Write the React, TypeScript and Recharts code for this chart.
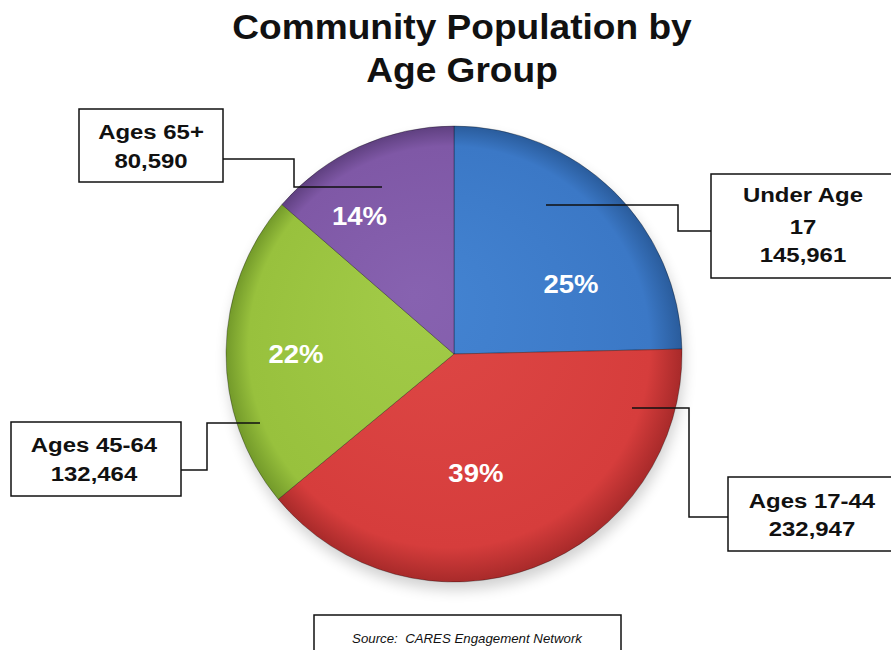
import React from 'react';
import { PieChart, Pie, Cell } from 'recharts';

// data
const groups = ['Under Age 17', 'Ages 17-44', 'Ages 45-64', 'Ages 65+'];
const population = [145961, 232947, 132464, 80590];
// callout box text lines
const calloutLines = [
    ['Under Age', '17', '145,961'],
    ['Ages 17-44', '232,947'],
    ['Ages 45-64', '132,464'],
    ['Ages 65+', '80,590'],
];

const chartData = groups.map((name, i) => ({ name, value: population[i] }));

const colors = [
    { id: 'gBlue', light: '#4484d2', base: '#3b78c6', dark: '#2a5c9c' },
    { id: 'gRed', light: '#de4846', base: '#d63d3c', dark: '#a82a2a' },
    { id: 'gGreen', light: '#a2cb48', base: '#98c13d', dark: '#739a2a' },
    { id: 'gPurple', light: '#8762b0', base: '#7f58a6', dark: '#5f4080' },
];

const FONT = '"Liberation Sans", Arial, sans-serif';
const CX = 454;
const CY = 354;
const R = 228;
const RAD = Math.PI / 180;

// layout for the percent labels (angle nudge from midAngle, distance from centre)
const pctLayout = [
    { da: -15, r: 136 },
    { da: -10, r: 121 },
    { da: 1, r: 158 },
    { da: 10, r: 167 },
];

// callout boxes and leader lines
const boxLayout = [
    { x: 711, y: 174, w: 190, h: 104, tx: 803, base: [202, 234, 262], line: [[546, 205], [678, 205], [678, 231], [738, 231]] },
    { x: 728, y: 477, w: 170, h: 74, tx: 812, base: [508, 536], line: [[632, 408], [689, 408], [689, 517], [747, 517]] },
    { x: 11, y: 422, w: 170, h: 74, tx: 94, base: [452, 481], line: [[260, 423], [207, 423], [207, 470], [150, 470]] },
    { x: 79, y: 109, w: 144, h: 73, tx: 151, base: [139, 168], line: [[382, 187], [294, 187], [294, 159], [207, 159]] },
];

// wide text like the original rendering
const WideText = ({ x, y, sx, children, ...rest }: any) => (
    <text transform={`translate(${x},${y}) scale(${sx},1)`} x={0} y={0} textAnchor="middle" fontFamily={FONT} {...rest}>
        {children}
    </text>
);

const renderLabel = (props: any) => {
    const { cx, cy, midAngle, percent, index } = props;
    const p = pctLayout[index];
    const a = (midAngle + p.da) * RAD;
    const x = cx + p.r * Math.cos(-a);
    const y = cy + p.r * Math.sin(-a);
    const b = boxLayout[index];
    return (
        <g key={`lbl-${index}`}>
            <polyline
                points={b.line.map((pt) => pt.join(',')).join(' ')}
                fill="none"
                stroke="#111"
                strokeWidth={1.5}
            />
            <rect x={b.x} y={b.y} width={b.w} height={b.h} fill="white" stroke="#111" strokeWidth={1.5} />
            {calloutLines[index].map((t, j) => (
                <WideText key={j} x={b.tx} y={b.base[j]} sx={1.14} fontWeight="bold" fontSize={21} fill="#111">
                    {t}
                </WideText>
            ))}
            <WideText x={x} y={y} sx={1.1} dominantBaseline="central" fontWeight="bold" fontSize={25} fill="white">
                {`${Math.round(percent * 100)}%`}
            </WideText>
        </g>
    );
};

export default function App() {
    return (
        <div style={{ position: 'absolute', left: 0, top: 0, width: 891, height: 650, background: 'white' }}>
            <PieChart width={891} height={650} margin={{ top: 0, right: 0, bottom: 0, left: 0 }}>
                <defs>
                    {colors.map((c) => (
                        <radialGradient
                            key={c.id}
                            id={c.id}
                            gradientUnits="userSpaceOnUse"
                            cx={CX}
                            cy={CY}
                            r={R}
                            fx={CX - 40}
                            fy={CY - 60}
                        >
                            <stop offset="0" stopColor={c.light} />
                            <stop offset="0.88" stopColor={c.base} />
                            <stop offset="1" stopColor={c.dark} />
                        </radialGradient>
                    ))}
                    <filter id="pieShadow" x="-20%" y="-20%" width="140%" height="140%">
                        <feGaussianBlur stdDeviation="7" />
                    </filter>
                </defs>
                <WideText x={462} y={39} sx={1.06} fontWeight="bold" fontSize={35} fill="#111">
                    Community Population by
                </WideText>
                <WideText x={462} y={82} sx={1.06} fontWeight="bold" fontSize={35} fill="#111">
                    Age Group
                </WideText>
                <circle cx={CX + 2} cy={CY + 8} r={R} fill="#000" opacity={0.18} filter="url(#pieShadow)" />
                <Pie
                    data={chartData}
                    dataKey="value"
                    nameKey="name"
                    cx={CX}
                    cy={CY}
                    outerRadius={R}
                    startAngle={90}
                    endAngle={-270}
                    stroke="rgba(0,0,0,0.3)"
                    strokeWidth={1}
                    label={renderLabel}
                    labelLine={false}
                    isAnimationActive={false}
                >
                    {chartData.map((d, i) => (
                        <Cell key={d.name} fill={`url(#${colors[i].id})`} />
                    ))}
                </Pie>
                <rect x={314} y={615} width={307} height={60} fill="white" stroke="#111" strokeWidth={1.5} />
                <WideText x={467} y={643} sx={1.02} fontStyle="italic" fontSize={13} fill="#111" style={{ whiteSpace: 'pre' }}>
                    Source:  CARES Engagement Network
                </WideText>
            </PieChart>
        </div>
    );
}
